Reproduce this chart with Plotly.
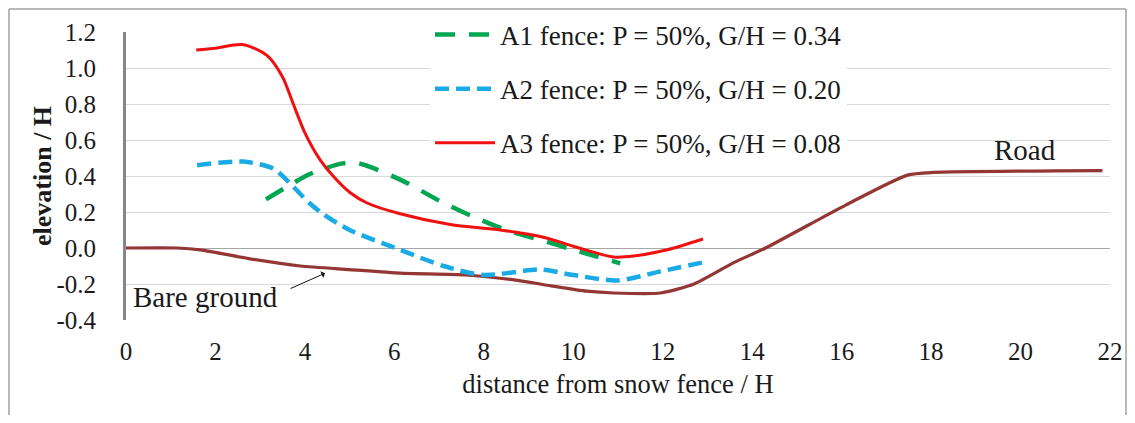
import plotly.graph_objects as go

# ---- data ----
a3_x = [1.57, 2.0, 2.6, 3.15, 3.5, 3.74, 4.0, 4.34, 4.63, 5.0, 5.39, 6.13, 7.25, 8.37, 9.33, 10.0, 10.9, 11.35, 12.1, 12.9]
a3_y = [1.10, 1.11, 1.13, 1.07, 0.95, 0.80, 0.64, 0.49, 0.40, 0.31, 0.25, 0.19, 0.13, 0.10, 0.06, 0.01, -0.05, -0.045, -0.01, 0.05]

a1_x = [3.13, 3.6, 4.1, 4.85, 5.2, 6.13, 7.1, 7.8, 8.5, 9.4, 10.0, 11.05]
a1_y = [0.27, 0.34, 0.41, 0.47, 0.47, 0.38, 0.25, 0.17, 0.10, 0.035, -0.01, -0.085]

a2_x = [1.59, 2.62, 3.3, 3.74, 4.1, 4.4, 5.0, 6.13, 7.1, 8.0, 9.26, 10.0, 11.0, 11.95, 12.9]
a2_y = [0.46, 0.48, 0.44, 0.34, 0.25, 0.19, 0.10, -0.01, -0.10, -0.15, -0.12, -0.15, -0.18, -0.13, -0.08]

ground_x = [0, 1.14, 1.66, 2.77, 3.9, 5.0, 6.13, 7.6, 8.75, 9.5, 10.3, 10.9, 11.95, 12.7, 13.6, 14.3, 16.1, 17.47, 18.05, 21.83]
ground_y = [0, 0.0, -0.01, -0.06, -0.10, -0.12, -0.14, -0.15, -0.18, -0.21, -0.24, -0.25, -0.25, -0.20, -0.08, 0.0, 0.24, 0.405, 0.42, 0.43]

series_names = ["A1 fence: P = 50%, G/H = 0.34",
                "A2 fence: P = 50%, G/H = 0.20",
                "A3 fence: P = 50%, G/H = 0.08"]

x_ticks = [0, 2, 4, 6, 8, 10, 12, 14, 16, 18, 20, 22]
y_ticks = [-0.4, -0.2, 0.0, 0.2, 0.4, 0.6, 0.8, 1.0, 1.2]
y_tick_labels = ["-0.4", "-0.2", "0.0", "0.2", "0.4", "0.6", "0.8", "1.0", "1.2"]

FONT = "Liberation Serif"
TXT = "#1a1a1a"

W, H = 1119, 407
L, R, T, B = 118, 17, 24, 95

fig = go.Figure()

fig.add_trace(go.Scatter(x=ground_x, y=ground_y, mode="lines", showlegend=False,
                         line=dict(color="#943634", width=3.2, shape="spline", smoothing=0.6)))
fig.add_trace(go.Scatter(x=a1_x, y=a1_y, mode="lines", name=series_names[0], legendgroup="a1",
                         line=dict(color="#00A650", width=4.5, dash="20px,14px", shape="spline", smoothing=0.8)))
fig.add_trace(go.Scatter(x=a2_x, y=a2_y, mode="lines", name=series_names[1], legendgroup="a2",
                         line=dict(color="#1AAAE6", width=4.5, dash="14px,7px", shape="spline", smoothing=0.8)))
fig.add_trace(go.Scatter(x=a3_x, y=a3_y, mode="lines", name=series_names[2], legendgroup="a3",
                         line=dict(color="#F01010", width=3, shape="spline", smoothing=0.8)))

pw, ph = W - L - R, H - T - B
bx0, bx1 = (1 - L) / pw, (W - 1 - L) / pw
by1 = (ph + T - 1) / ph
by0 = -(B + 10) / ph
border = dict(color="#A0A0A0", width=1.5)

fig.update_layout(
    width=W, height=H,
    margin=dict(l=L, r=R, t=T, b=B, autoexpand=False),
    paper_bgcolor="white", plot_bgcolor="white",
    font=dict(family=FONT, size=25, color=TXT),
    showlegend=True,
    legend=dict(xref="container", yref="container", x=422 / W, y=1 - 2.5 / H,
                xanchor="left", yanchor="top", bgcolor="white",
                font=dict(family=FONT, size=27, color=TXT),
                itemwidth=60, tracegroupgap=16),
    xaxis=dict(range=[0, 22], tickvals=x_ticks, showgrid=False, zeroline=False,
               showline=False, ticks="", ticklabelstandoff=14,
               tickfont=dict(size=25),
               title=dict(text="distance from snow fence / H", font=dict(size=26.5), standoff=10)),
    yaxis=dict(range=[-0.4, 1.2], tickvals=y_ticks, ticktext=y_tick_labels,
               showgrid=True, gridcolor="#D9D9D9", gridwidth=1.3,
               zeroline=True, zerolinecolor="#A6A6A6", zerolinewidth=1.3,
               showline=True, linecolor="#868686", linewidth=3, ticks="",
               ticklabelstandoff=22, tickfont=dict(size=25)),
    annotations=[
        dict(x=(34 - L) / pw, y=0.5, xref="paper", yref="paper", text="<b>elevation / H</b>",
             textangle=-90, showarrow=False, xanchor="center", yanchor="middle",
             font=dict(family=FONT, size=26, color=TXT)),
        dict(x=4.45, y=-0.14, xref="x", yref="y", text="", showarrow=True,
             ax=-36, ay=16, arrowhead=1, arrowsize=1.2, arrowwidth=1, arrowcolor="#111"),
        dict(x=1.78, y=-0.27, xref="x", yref="y", text="Bare ground", showarrow=False,
             font=dict(family=FONT, size=29, color=TXT)),
        dict(x=20.1, y=0.544, xref="x", yref="y", text="Road", showarrow=False,
             font=dict(family=FONT, size=29, color=TXT)),
    ],
    shapes=[
        dict(type="line", xref="paper", yref="paper", x0=bx0, x1=bx1, y0=by1, y1=by1,
             line=border, layer="below"),
        dict(type="line", xref="paper", yref="paper", x0=bx0, x1=bx0, y0=by0, y1=by1,
             line=border, layer="below"),
        dict(type="line", xref="paper", yref="paper", x0=bx1, x1=bx1, y0=by0, y1=by1,
             line=border, layer="below"),
    ],
)

fig.write_html("out.html")
